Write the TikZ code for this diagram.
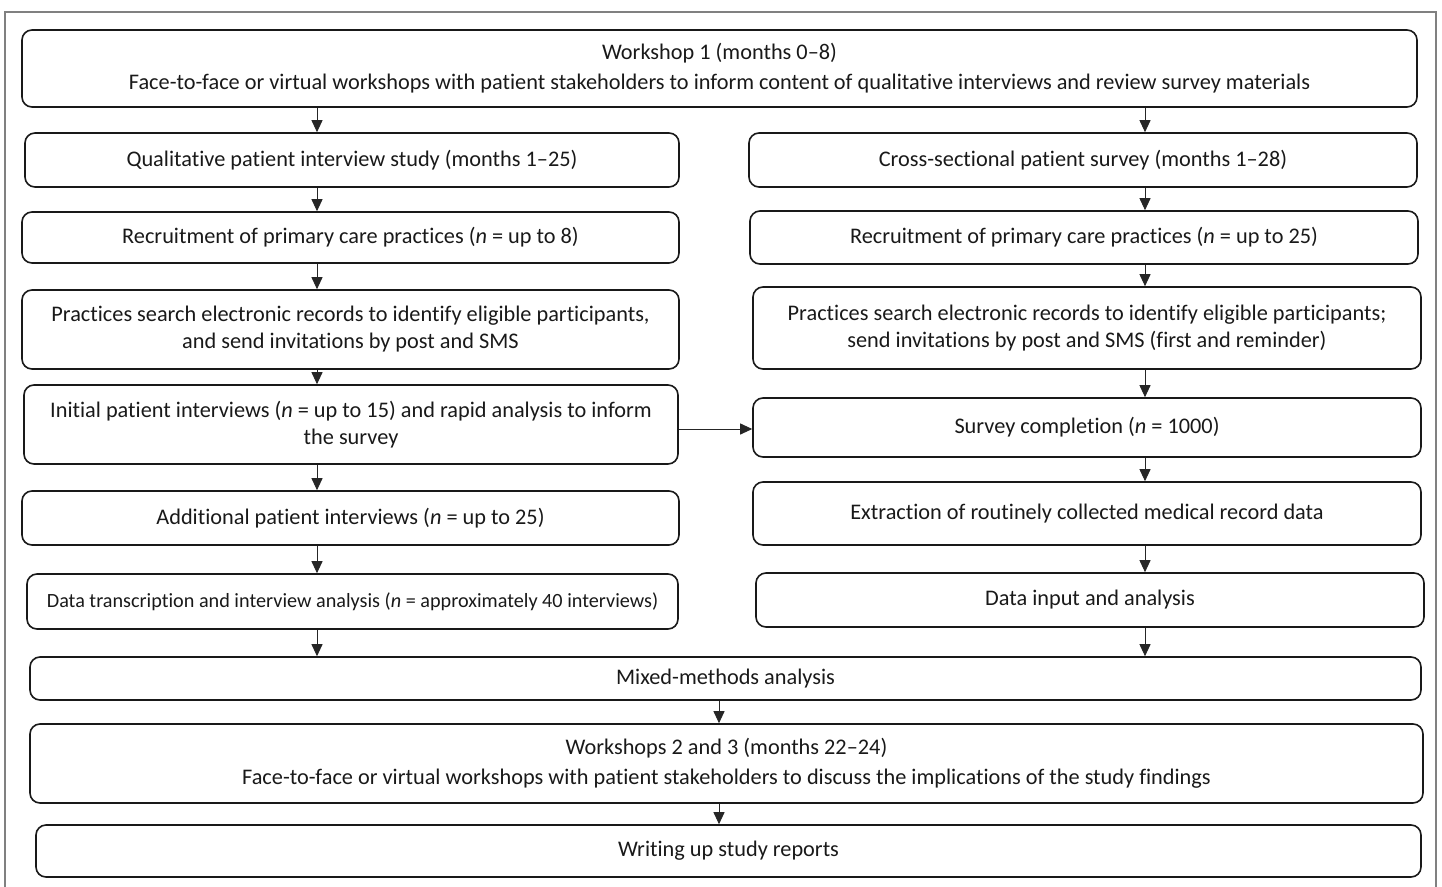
\documentclass[tikz,border=0pt]{standalone}
\usepackage{fontspec}
\setmainfont{Carlito}[Ligatures={NoCommon,TeX}]
\usetikzlibrary{arrows.meta}
\tikzset{
  box/.style={draw=black!90, line width=1.6pt, rounded corners=10pt, align=center,
    inner sep=0pt, font=\fontsize{22.3}{27}\selectfont, text=black!90},
  bigbox/.style={box, font=\fontsize{22.3}{30}\selectfont},
  smallbox/.style={box, font=\fontsize{20.2}{24}\selectfont},
  arr/.style={line width=0.9pt, black!85, -{Triangle[length=12pt,width=11pt]}},
  frame/.style={draw=black!50, line width=1.3pt}
}
\newcommand{\bx}[7]{\node[#1, minimum width=#4-#3, minimum height=#6-#5] (#2) at ({(#3+#4)/2},{(#5+#6)/2}) {#7};}
\begin{document}
\begin{tikzpicture}[x=1pt,y=-1pt]
\useasboundingbox (0,0) rectangle (1442,886);
\begin{scope}
\clip (0,0) rectangle (1442,886);
\draw[frame] (5,12) rectangle (1436,900);
\end{scope}
% boxes
\bx{bigbox}{W1}{22}{1417}{30}{107}{Workshop 1 (months 0--8)\\Face-to-face or virtual workshops with patient stakeholders to inform content of qualitative interviews and review survey materials}
\bx{box}{Q}{25}{679}{133}{187}{Qualitative patient interview study (months 1--25)}
\bx{box}{C}{749}{1417}{133}{187}{Cross-sectional patient survey (months 1--28)}
\bx{box}{RL}{22}{679}{212}{263}{Recruitment of primary care practices (\textit{n} = up to 8)}
\bx{box}{RR}{750}{1418}{211}{264}{Recruitment of primary care practices (\textit{n} = up to 25)}
\bx{box}{PL}{22}{679}{290}{369}{Practices search electronic records to identify eligible participants,\\and send invitations by post and SMS}
\bx{box}{PR}{753}{1421}{287}{369}{Practices search electronic records to identify eligible participants;\\send invitations by post and SMS (first and reminder)}
\bx{box}{IL}{24}{678}{385}{464}{Initial patient interviews (\textit{n} = up to 15) and rapid analysis to inform\\the survey}
\bx{box}{SC}{753}{1421}{398}{457}{Survey completion (\textit{n} = 1000)}
\bx{box}{AL}{22}{679}{491}{545}{Additional patient interviews (\textit{n} = up to 25)}
\bx{box}{EX}{753}{1421}{482}{545}{Extraction of routinely collected medical record data}
\bx{smallbox}{DT}{27}{678}{574}{629}{Data transcription and interview analysis (\textit{n} = approximately 40 interviews)}
\bx{box}{DI}{756}{1424}{573}{627}{Data input and analysis}
\bx{box}{MM}{30}{1421}{657}{700}{Mixed-methods analysis}
\bx{bigbox}{W23}{30}{1423}{724}{803}{Workshops 2 and 3 (months 22--24)\\Face-to-face or virtual workshops with patient stakeholders to discuss the implications of the study findings}
\bx{box}{WR}{36}{1421}{825}{877}{Writing up study reports}
% columns
\coordinate (cL) at (317,0);
\coordinate (cR) at (1145,0);
\coordinate (cM) at (719,0);
\coordinate (hy) at (0,429);
% arrows left
\draw[arr] (W1.south -| cL) -- (Q.north -| cL);
\draw[arr] (Q.south -| cL) -- (RL.north -| cL);
\draw[arr] (RL.south -| cL) -- (PL.north -| cL);
\draw[arr] (PL.south -| cL) -- (IL.north -| cL);
\draw[arr] (IL.south -| cL) -- (AL.north -| cL);
\draw[arr] (AL.south -| cL) -- (DT.north -| cL);
\draw[arr] (DT.south -| cL) -- (MM.north -| cL);
% arrows right
\draw[arr] (W1.south -| cR) -- (C.north -| cR);
\draw[arr] (C.south -| cR) -- (RR.north -| cR);
\draw[arr] (RR.south -| cR) -- (PR.north -| cR);
\draw[arr] (PR.south -| cR) -- (SC.north -| cR);
\draw[arr] (SC.south -| cR) -- (EX.north -| cR);
\draw[arr] (EX.south -| cR) -- (DI.north -| cR);
\draw[arr] (DI.south -| cR) -- (MM.north -| cR);
% middle
\draw[arr] (MM.south -| cM) -- (W23.north -| cM);
\draw[arr] (W23.south -| cM) -- (WR.north -| cM);
% horizontal
\draw[arr] (IL.east |- hy) -- (SC.west |- hy);
\end{tikzpicture}
\end{document}
